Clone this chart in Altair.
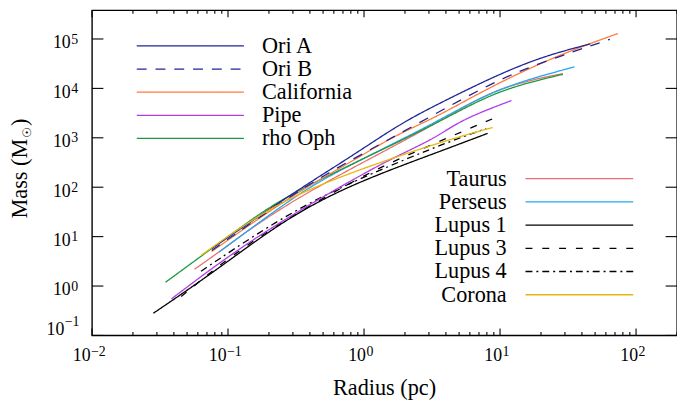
import altair as alt
import pandas as pd

# ---------------- data ----------------
series_names = ["Lupus 1", "Lupus 3", "Lupus 4", "Taurus", "Perseus", "rho Oph",
                "Pipe", "California", "Ori B", "Ori A", "Corona"]

lupus1_r = [0.0283, 0.0793, 0.2415, 0.738, 3.327, 8.11]
lupus1_m = [0.282, 1.94, 19.4, 104.7, 487.5, 1230]
lupus3_r = [0.0453, 0.1384, 0.738, 1.702, 9.08]
lupus3_m = [0.614, 7.73, 113, 358, 2512]
lupus4_r = [0.0634, 0.1828, 0.557, 3.327, 7.91]
lupus4_m = [2.0, 14.3, 83.2, 661, 1542]
taurus_r = [0.0568, 0.0861, 0.2858, 3.327, 9.08, 28.97]
taurus_m = [2.19, 4.88, 56.2, 1778, 10471, 19953]
perseus_r = [0.0861, 0.2858, 0.590, 3.327, 9.08, 35.24]
perseus_m = [4.88, 56.8, 194, 1941, 10000, 27164]
rhooph_r = [0.0347, 0.1384, 0.2858, 3.327, 9.08, 28.97]
rhooph_m = [1.19, 19.4, 77.3, 1795, 8995, 19231]
pipe_r = [0.0384, 0.1384, 0.738, 1.702, 3.327, 5.2, 12.13]
pipe_m = [0.55, 7.94, 122, 417, 973, 2344, 5675]
california_r = [0.0759, 0.302, 0.738, 1.702, 3.327, 9.08, 27.67, 73.45]
california_m = [5.0, 72.4, 282, 1148, 2512, 12023, 48978, 128825]
orib_r = [0.0759, 0.302, 0.738, 2.512, 9.08, 20.94, 64.27]
orib_m = [5.25, 74.1, 316, 1950, 14125, 34674, 98620]
oria_r = [0.0759, 0.302, 0.738, 1.702, 2.812, 9.08, 20.94, 46.03]
oria_m = [5.75, 77.6, 358, 1660, 3581, 17783, 45082, 79433]
corona_r = [0.0634, 0.1384, 0.3776, 3.327, 8.83]
corona_m = [4.17, 19.4, 97.3, 773, 1614]

series_data = {
    "Lupus 1": (lupus1_r, lupus1_m), "Lupus 3": (lupus3_r, lupus3_m),
    "Lupus 4": (lupus4_r, lupus4_m), "Taurus": (taurus_r, taurus_m),
    "Perseus": (perseus_r, perseus_m), "rho Oph": (rhooph_r, rhooph_m),
    "Pipe": (pipe_r, pipe_m), "California": (california_r, california_m),
    "Ori B": (orib_r, orib_m), "Ori A": (oria_r, oria_m),
    "Corona": (corona_r, corona_m),
}

colors = {"Ori A": "#1f2596", "Ori B": "#1f2596", "California": "#ff7a3a",
          "Pipe": "#b23be8", "rho Oph": "#1d9a40", "Taurus": "#ee6e6e",
          "Perseus": "#20a8f0", "Lupus 1": "#000000", "Lupus 3": "#000000",
          "Lupus 4": "#000000", "Corona": "#e6b80e"}
dashes = {"Ori A": [1, 0], "Ori B": [10, 9], "California": [1, 0], "Pipe": [1, 0],
          "rho Oph": [1, 0], "Taurus": [1, 0], "Perseus": [1, 0], "Lupus 1": [1, 0],
          "Lupus 3": [7, 10], "Lupus 4": [7, 4, 2, 4], "Corona": [1, 0]}

legend1 = ["Ori A", "Ori B", "California", "Pipe", "rho Oph"]
legend2 = ["Taurus", "Perseus", "Lupus 1", "Lupus 3", "Lupus 4", "Corona"]

x_major = [0.01, 0.1, 1, 10, 100]
x_exp = ["−2", "−1", "0", "1", "2"]
y_major = [0.1, 1, 10, 100, 1e3, 1e4, 1e5]
y_exp = ["−1", "0", "1", "2", "3", "4", "5"]
x_minor = [m * d for d in [0.01, 0.1, 1, 10, 100] for m in range(2, 10) if m * d <= 200]

x_title = "Radius (pc)"
y_title_parts = ["Mass (M", "☉", ")"]

# ---------------- layout ----------------
W, H = 592, 329
FONT = "Liberation Serif, Times New Roman, Times, Nimbus Roman, DejaVu Serif, serif"
XDOM = [0.01, 200]
YDOM = [0.1, 3.8e5]
TS = 18      # tick label size
ES = 14      # exponent size
LS = 22.5    # legend / title size

rows = []
for name in series_names:
    r, m = series_data[name]
    for k, (rv, mv) in enumerate(zip(r, m)):
        rows.append({"series": name, "R": rv, "M": mv, "k": k})
df = pd.DataFrame(rows)

cdom = series_names
color_scale = alt.Scale(domain=cdom, range=[colors[n] for n in cdom])
dash_scale = alt.Scale(domain=cdom, range=[dashes[n] for n in cdom])

xs = alt.Scale(type="log", domain=XDOM, nice=False)
ys = alt.Scale(type="log", domain=YDOM, nice=False)

lines = alt.Chart(df).mark_line(interpolate="basis", strokeWidth=1.3).encode(
    x=alt.X("R:Q", scale=xs, axis=None),
    y=alt.Y("M:Q", scale=ys, axis=None),
    color=alt.Color("series:N", scale=color_scale, legend=None),
    strokeDash=alt.StrokeDash("series:N", scale=dash_scale, legend=None),
    order="k:Q",
    detail="series:N",
)

# ---------------- frame ticks (inward) ----------------
xt = pd.DataFrame({"v": x_major, "e": x_exp, "neg": [e.startswith("−") for e in x_exp]})
xm = pd.DataFrame({"v": x_minor})
yt = pd.DataFrame({"v": y_major, "e": y_exp, "neg": [e.startswith("−") for e in y_exp]})

def xticks(data, length):
    base = alt.Chart(data).mark_rule(color="black", strokeWidth=1.1)
    bot = base.encode(x=alt.X("v:Q", scale=xs), y=alt.value(H), y2=alt.value(H - length))
    top = base.encode(x=alt.X("v:Q", scale=xs), y=alt.value(0), y2=alt.value(length))
    return bot + top

def yticks(data, length):
    base = alt.Chart(data).mark_rule(color="black", strokeWidth=1.1)
    left = base.encode(y=alt.Y("v:Q", scale=ys), x=alt.value(0), x2=alt.value(length))
    right = base.encode(y=alt.Y("v:Q", scale=ys), x=alt.value(W - length), x2=alt.value(W))
    return left + right

ticks = xticks(xt[["v"]], 7) + xticks(xm, 3.5) + yticks(yt[["v"]], 11.5)

# ---------------- tick labels: "10" + superscript exponent ----------------
def txt(data, **kw):
    kw.setdefault("font", FONT)
    return alt.Chart(data).mark_text(color="black", **kw)

xl_pos = xt[~xt["neg"]]
xl_neg = xt[xt["neg"]]
xlabels = (
    txt(xl_pos, fontSize=TS, align="right", baseline="alphabetic", dx=2).encode(
        x=alt.X("v:Q", scale=xs), y=alt.value(H + 26.3), text=alt.value("10")) +
    txt(xl_pos, fontSize=ES, align="left", baseline="alphabetic", dx=2.5).encode(
        x=alt.X("v:Q", scale=xs), y=alt.value(H + 20.3), text="e:N") +
    txt(xl_neg, fontSize=TS, align="right", baseline="alphabetic", dx=-1.5).encode(
        x=alt.X("v:Q", scale=xs), y=alt.value(H + 26.3), text=alt.value("10")) +
    txt(xl_neg, fontSize=ES, align="left", baseline="alphabetic", dx=-1).encode(
        x=alt.X("v:Q", scale=xs), y=alt.value(H + 20.3), text="e:N")
)

yl_pos = yt[~yt["neg"]]
yl_neg = yt[yt["neg"]]
ylabels = (
    txt(yl_pos, fontSize=TS, align="right", baseline="alphabetic", dy=9.5).encode(
        y=alt.Y("v:Q", scale=ys), x=alt.value(-21.5), text=alt.value("10")) +
    txt(yl_pos, fontSize=ES, align="left", baseline="alphabetic", dy=4.7).encode(
        y=alt.Y("v:Q", scale=ys), x=alt.value(-21), text="e:N") +
    txt(yl_neg, fontSize=TS, align="right", baseline="alphabetic", dy=-0.5).encode(
        y=alt.Y("v:Q", scale=ys), x=alt.value(-28), text=alt.value("10")) +
    txt(yl_neg, fontSize=ES, align="left", baseline="alphabetic", dy=-9.5).encode(
        y=alt.Y("v:Q", scale=ys), x=alt.value(-27.5), text="e:N")
)

# ---------------- axis titles ----------------
tdf = pd.DataFrame({"t": [x_title]})
xtitle = txt(tdf, fontSize=LS, align="center", baseline="alphabetic").encode(
    x=alt.value(W / 2), y=alt.value(H + 60), text="t:N")

ydf = pd.DataFrame({"t": y_title_parts})
ytitle = (
    txt(ydf.iloc[[0]], fontSize=LS, angle=270, align="right", baseline="alphabetic").encode(
        x=alt.value(-66), y=alt.value(130), text="t:N") +
    txt(ydf.iloc[[1]], font="DejaVu Sans", fontSize=12, angle=270, align="left",
        baseline="alphabetic").encode(x=alt.value(-62), y=alt.value(129), text="t:N") +
    txt(ydf.iloc[[2]], fontSize=LS, angle=270, align="left", baseline="alphabetic").encode(
        x=alt.value(-66), y=alt.value(117), text="t:N")
)

# ---------------- in-plot legends ----------------
leg1 = pd.DataFrame({"series": legend1,
                     "ly": [36 + 23.4 * i for i in range(len(legend1))]})
leg2 = pd.DataFrame({"series": legend2,
                     "ly": [170.3 + 23.5 * i for i in range(len(legend2))]})

def leg_lines(data, x0, x1):
    return alt.Chart(data).mark_rule(strokeWidth=1.3).encode(
        x=alt.value(x0), x2=alt.value(x1),
        y=alt.Y("ly:Q", scale=None),
        color=alt.Color("series:N", scale=color_scale, legend=None),
        strokeDash=alt.StrokeDash("series:N", scale=dash_scale, legend=None),
    )

def leg_text(data, x0, align):
    return txt(data, fontSize=LS, align=align, baseline="middle").encode(
        x=alt.value(x0), y=alt.Y("ly:Q", scale=None), text="series:N")

legends = (leg_lines(leg1, 45.3, 153.7) + leg_text(leg1, 172, "left") +
           leg_lines(leg2, 438.7, 547.7) + leg_text(leg2, 419.7, "right"))

chart = alt.layer(lines, ticks, xlabels, ylabels, xtitle, ytitle, legends).properties(
    width=W, height=H,
    autosize=alt.AutoSizeParams(type="none"),
    padding={"left": 85, "top": 0, "right": 0, "bottom": 66},
).configure(
    background="white",
    view=alt.ViewConfig(stroke="black", strokeWidth=1.4),
)

chart.save("out.html", embed_options={"renderer": "svg", "actions": False})
